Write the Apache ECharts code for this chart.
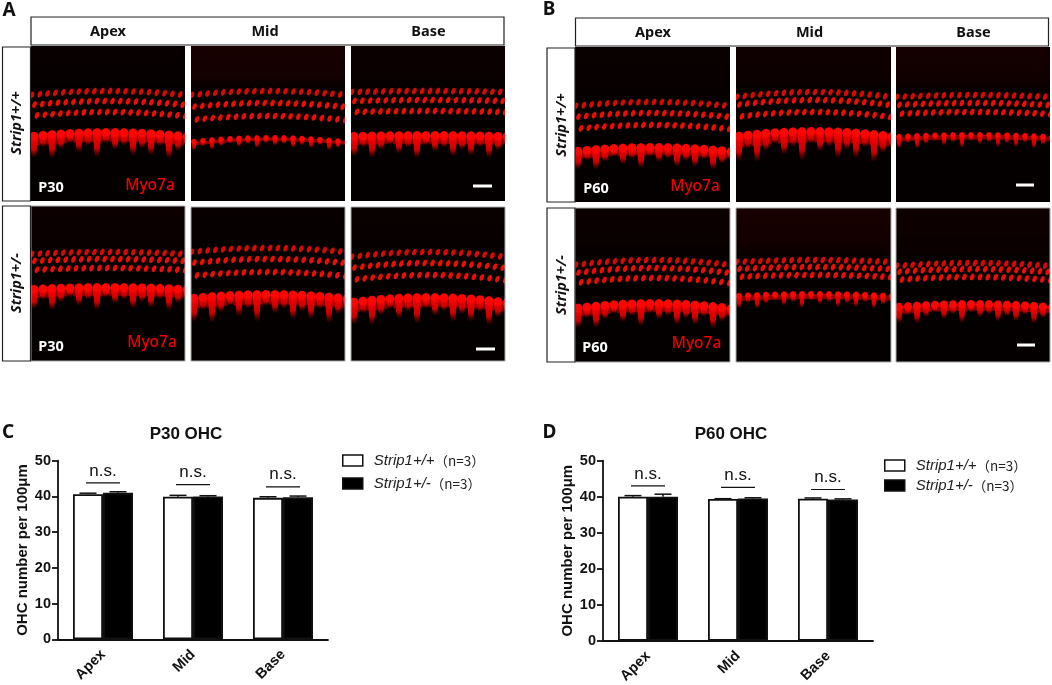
<!DOCTYPE html>
<html>
<head>
<meta charset="utf-8">
<title>Strip1 OHC</title>
<script src="https://cdn.jsdelivr.net/npm/echarts@6/dist/echarts.min.js"></script>
<style>
  html, body { margin: 0; padding: 0; background: #fff; }
  #main { width: 1052px; height: 685px; }
</style>
</head>
<body>
<div id="main"></div>
<script>
const categories = ['Apex', 'Mid', 'Base']
const yTicks = [0, 10, 20, 30, 40, 50]
const seriesNames = ['Strip1+/+', 'Strip1+/-']

// P30 OHC
const p30Wild = [40.6, 39.9, 39.6]
const p30Het = [41.0, 40.0, 39.8]
const p30WildErr = [0.3, 0.4, 0.3]
const p30HetErr = [0.3, 0.2, 0.3]
const p30Sig = [43.8, 43.3, 42.7]

// P60 OHC
const p60Wild = [40.0, 39.35, 39.45]
const p60Het = [40.0, 39.5, 39.2]
const p60WildErr = [0.3, 0.1, 0.2]
const p60HetErr = [0.7, 0.2, 0.2]
const p60Sig = [43.0, 42.6, 42.0]

const SANS = '"Liberation Sans", Arial, sans-serif'
const LABEL = '"Noto Sans", sans-serif'

// micrograph sketches: [x, y, w, h, row1, row2, row3, ihcTop, ihcBottom, curve, haze]
const micrographs = [
  [31, 46, 154, 155, 91, 101, 112, 128, 150, 4, 0.03],
  [191, 46, 154, 155, 91, 103, 116, 135, 143, 4, 0.14],
  [351, 46, 154, 155, 91, 100, 111, 131, 151, 1, 0.05],
  [31, 206, 154, 155, 252, 259, 268, 283, 303, 2, 0.06],
  [191, 207, 154, 154, 248, 259, 272, 290, 314, 4, 0.03],
  [351, 207, 154, 154, 252, 263, 275, 293, 316, 5, 0.04],
  [575, 47, 155, 155, 102, 113, 125, 143, 161, 4, 0.04],
  [736, 47, 155, 155, 92, 100, 112, 127, 153, 5, 0.08],
  [896, 47, 154, 155, 95, 103, 112, 132, 143, 2, 0.12],
  [575, 208, 155, 154, 260, 268, 278, 299, 319, 5, 0.05],
  [736, 208, 155, 154, 260, 267, 275, 291, 303, 2, 0.14],
  [896, 208, 154, 154, 263, 269, 277, 300, 316, 3, 0.07]
]
const tailPattern = [0.9, 0.45, 1, 0.6, 0.35, 0.8, 0.5, 1.05, 0.4, 0.7, 0.5, 0.95, 0.6]

function sketchMicrograph(m) {
  const [px, py, w, h, r1, r2, r3, top, bottom, curve, haze] = m
  const scale = 2
  const cv = document.createElement('canvas')
  cv.width = w * scale
  cv.height = h * scale
  const ctx = cv.getContext('2d')
  ctx.scale(scale, scale)
  ctx.fillStyle = '#040000'
  ctx.fillRect(0, 0, w, h)

  const arc = x => curve * Math.pow((x - w / 2) / (w / 2), 2)

  // faint tissue above the hair cell rows
  const hazeFill = ctx.createLinearGradient(0, 0, 0, r1 - py)
  hazeFill.addColorStop(0, `rgba(150,0,0,${haze})`)
  hazeFill.addColorStop(0.7, `rgba(150,0,0,${haze * 0.7})`)
  hazeFill.addColorStop(1, 'rgba(150,0,0,0)')
  ctx.fillStyle = hazeFill
  ctx.fillRect(0, 0, w, r1 - py)

  ctx.filter = 'blur(0.6px)'

  // outer hair cells, three staggered rows
  ;[r1, r2, r3].forEach((rowY, row) => {
    for (let x = 1 + row * 2.5; x < w + 2; x += 7.8) {
      ctx.fillStyle = row === 0 ? '#d80808' : '#f00a0a'
      ctx.beginPath()
      ctx.ellipse(x, rowY - py + arc(x), 2.1, 3.5, 0.4, 0, Math.PI * 2)
      ctx.fill()
    }
  })

  // inner hair cells: round bodies over a soft mass with uneven tails
  const band = bottom - top
  const radius = Math.min(4.4, Math.max(2.8, band / 4))
  let n = 0
  for (let x = 3; x < w + 4; x += 9, n++) {
    const cy = top - py + radius + arc(x)
    const tail = band * tailPattern[n % tailPattern.length]
    const fade = ctx.createLinearGradient(0, cy, 0, cy + tail + 2)
    fade.addColorStop(0, 'rgba(255,0,0,1)')
    fade.addColorStop(0.65, 'rgba(235,0,0,0.85)')
    fade.addColorStop(1, 'rgba(180,0,0,0)')
    ctx.fillStyle = fade
    ctx.beginPath()
    ctx.moveTo(x - radius, cy)
    ctx.lineTo(x + radius, cy)
    ctx.lineTo(x + radius * 0.45, cy + tail + 2)
    ctx.lineTo(x - radius * 0.45, cy + tail + 2)
    ctx.closePath()
    ctx.fill()
    // gap between cells stays darker than the bodies
    ctx.fillStyle = 'rgba(215,0,0,0.6)'
    ctx.fillRect(x + radius * 0.7, cy, 9 - radius * 1.4, band * 0.42)
    ctx.fillStyle = '#fb0505'
    ctx.beginPath()
    ctx.arc(x, cy, radius, 0, Math.PI * 2)
    ctx.fill()
  }
  ctx.filter = 'none'
  return cv
}

function textEl(text, x, y, font, fill, rotation) {
  return {
    type: 'text', x, y, rotation: rotation || 0, z: 20,
    style: { text, font, fill, align: 'center', verticalAlign: 'middle' }
  }
}

function boxEl(x, y, width, height) {
  return {
    type: 'rect', shape: { x, y, width, height }, z: 12,
    style: { fill: '#fff', stroke: '#222', lineWidth: 1.2 }
  }
}

function scaleBarEl(x1, x2, y) {
  return {
    type: 'rect', shape: { x: x1, y: y - 1.5, width: x2 - x1, height: 3 }, z: 20,
    style: { fill: '#fff' }
  }
}

const headFont = `bold 14.5px ${LABEL}`
const sideFont = `italic bold 14.5px ${LABEL}`
const ageFont = `bold 14.5px ${LABEL}`
const markerFont = `500 15.5px ${LABEL}`
const letterFont = `bold 19px ${LABEL}`
const graphics = []

micrographs.forEach(m => {
  graphics.push({
    type: 'image', z: 10,
    style: { image: sketchMicrograph(m), x: m[0], y: m[1], width: m[2], height: m[3] }
  })
  if (m[1] > 200) {
    graphics.push({
      type: 'rect', z: 11,
      shape: { x: m[0], y: m[1], width: m[2], height: m[3] },
      style: { fill: null, stroke: '#a8a8a8', lineWidth: 1 }
    })
  }
})

graphics.push(
  boxEl(31, 17, 473, 28), boxEl(2.5, 47, 28, 154), boxEl(2.5, 206, 28, 155),
  boxEl(575.5, 18, 473, 28), boxEl(547, 48, 28, 154), boxEl(547, 208, 28, 154),
  textEl('A', 9, 11, letterFont, '#111'),
  textEl('B', 549, 10, letterFont, '#111'),
  textEl('C', 8, 433, letterFont, '#111'),
  textEl('D', 549.5, 433, letterFont, '#111'),
  textEl('Apex', 108, 31.5, headFont, '#111'),
  textEl('Mid', 265, 31.5, headFont, '#111'),
  textEl('Base', 428.5, 31.5, headFont, '#111'),
  textEl('Apex', 653, 33, headFont, '#111'),
  textEl('Mid', 809.5, 33, headFont, '#111'),
  textEl('Base', 973.5, 33, headFont, '#111'),
  textEl('Strip1+/+', 17, 123, sideFont, '#111', Math.PI / 2),
  textEl('Strip1+/-', 17, 283, sideFont, '#111', Math.PI / 2),
  textEl('Strip1+/+', 562, 125, sideFont, '#111', Math.PI / 2),
  textEl('Strip1+/-', 562, 285, sideFont, '#111', Math.PI / 2),
  textEl('P30', 51, 187.5, ageFont, '#fff'),
  textEl('P30', 51, 346.5, ageFont, '#fff'),
  textEl('P60', 596, 189, ageFont, '#fff'),
  textEl('P60', 595, 348, ageFont, '#fff'),
  textEl('Myo7a', 150, 186, markerFont, '#f00000'),
  textEl('Myo7a', 152, 343, markerFont, '#f00000'),
  textEl('Myo7a', 695, 187, markerFont, '#f00000'),
  textEl('Myo7a', 696.5, 344, markerFont, '#f00000'),
  scaleBarEl(473, 492, 186),
  scaleBarEl(476, 495, 349),
  scaleBarEl(1016, 1034, 185),
  scaleBarEl(1017, 1035, 345)
)

function makeXAxis(gridIndex) {
  return {
    gridIndex,
    type: 'category',
    data: categories,
    axisLine: { lineStyle: { color: '#111', width: 1.8 } },
    axisTick: { alignWithLabel: true, length: 6, lineStyle: { color: '#111', width: 1.8 } },
    axisLabel: { rotate: 45, margin: 13, color: '#111', fontFamily: SANS, fontWeight: 'bold', fontSize: 14.5, interval: 0 }
  }
}

function makeYAxis(gridIndex) {
  return {
    gridIndex,
    type: 'value',
    min: yTicks[0],
    max: yTicks[yTicks.length - 1],
    interval: 10,
    name: 'OHC number per 100μm',
    nameLocation: 'middle',
    nameGap: 28,
    nameTextStyle: { color: '#111', fontFamily: SANS, fontWeight: 'bold', fontSize: 15 },
    axisLine: { show: true, lineStyle: { color: '#111', width: 1.8 } },
    axisTick: { show: true, length: 6, lineStyle: { color: '#111', width: 1.8 } },
    axisLabel: { margin: 7, color: '#111', fontFamily: SANS, fontWeight: 'bold', fontSize: 14.5 },
    splitLine: { show: false }
  }
}

function barSeries(name, values, axisIndex, filled) {
  return {
    name,
    type: 'bar',
    xAxisIndex: axisIndex,
    yAxisIndex: axisIndex,
    data: values,
    barWidth: 30,
    barGap: 0,
    itemStyle: { color: filled ? '#000' : '#fff', borderColor: '#111', borderWidth: 1.8 }
  }
}

function errorSeries(values, errors, axisIndex, offset) {
  return {
    type: 'custom',
    xAxisIndex: axisIndex,
    yAxisIndex: axisIndex,
    data: values.map((v, i) => [i, v, v + errors[i]]),
    z: 5,
    renderItem(params, api) {
      const base = api.coord([api.value(0), api.value(1)])
      const top = api.coord([api.value(0), api.value(2)])
      const x = base[0] + offset
      const style = { stroke: '#111', lineWidth: 1.5, fill: null }
      return {
        type: 'group',
        children: [
          { type: 'line', shape: { x1: x, y1: base[1], x2: x, y2: top[1] }, style },
          { type: 'line', shape: { x1: x - 8.5, y1: top[1], x2: x + 8.5, y2: top[1] }, style }
        ]
      }
    }
  }
}

function sigSeries(values, axisIndex) {
  return {
    type: 'custom',
    xAxisIndex: axisIndex,
    yAxisIndex: axisIndex,
    data: values.map((v, i) => [i, v]),
    z: 6,
    renderItem(params, api) {
      const p = api.coord([api.value(0), api.value(1)])
      return {
        type: 'group',
        children: [
          { type: 'line', shape: { x1: p[0] - 17, y1: p[1], x2: p[0] + 17, y2: p[1] }, style: { stroke: '#111', lineWidth: 1.2 } },
          { type: 'text', x: p[0], y: p[1] - 12, style: { text: 'n.s.', fill: '#111', font: `17px ${SANS}`, align: 'center', verticalAlign: 'middle' } }
        ]
      }
    }
  }
}

function makeLegend(left, top, itemGap) {
  return {
    left, top, itemGap,
    orient: 'vertical',
    selectedMode: false,
    data: seriesNames,
    icon: 'rect',
    itemWidth: 20,
    itemHeight: 11,
    itemStyle: { borderColor: '#111', borderWidth: 1.5 },
    formatter: name => `{s|${name}}{n|（n=3）}`,
    textStyle: {
      rich: {
        s: { fontFamily: SANS, fontStyle: 'italic', fontSize: 15, color: '#222', padding: [0, 0, 0, 6] },
        n: { fontFamily: '"Noto Sans CJK SC", sans-serif', fontSize: 13.5, color: '#222' }
      }
    }
  }
}

const titleStyle = { fontFamily: SANS, fontWeight: 'bold', fontSize: 17, color: '#111' }
const myChart = echarts.init(document.getElementById('main'), null, { renderer: 'canvas' })

myChart.setOption({
  animation: false,
  backgroundColor: '#fff',
  title: [
    { text: 'P30 OHC', left: 181, top: 429, textAlign: 'center', textVerticalAlign: 'middle', textStyle: titleStyle },
    { text: 'P60 OHC', left: 726, top: 429, textAlign: 'center', textVerticalAlign: 'middle', textStyle: titleStyle }
  ],
  legend: [makeLegend(337, 448, 8), makeLegend(879, 453, 5)],
  grid: [
    { left: 58, top: 460.7, width: 270, height: 178.6, outerBoundsMode: 'none' },
    { left: 603, top: 460.7, width: 270, height: 180, outerBoundsMode: 'none' }
  ],
  xAxis: [makeXAxis(0), makeXAxis(1)],
  yAxis: [makeYAxis(0), makeYAxis(1)],
  series: [
    barSeries(seriesNames[0], p30Wild, 0, false),
    barSeries(seriesNames[1], p30Het, 0, true),
    errorSeries(p30Wild, p30WildErr, 0, -15),
    errorSeries(p30Het, p30HetErr, 0, 15),
    sigSeries(p30Sig, 0),
    barSeries(seriesNames[0], p60Wild, 1, false),
    barSeries(seriesNames[1], p60Het, 1, true),
    errorSeries(p60Wild, p60WildErr, 1, -15),
    errorSeries(p60Het, p60HetErr, 1, 15),
    sigSeries(p60Sig, 1)
  ],
  graphic: graphics
})
</script>
</body>
</html>
